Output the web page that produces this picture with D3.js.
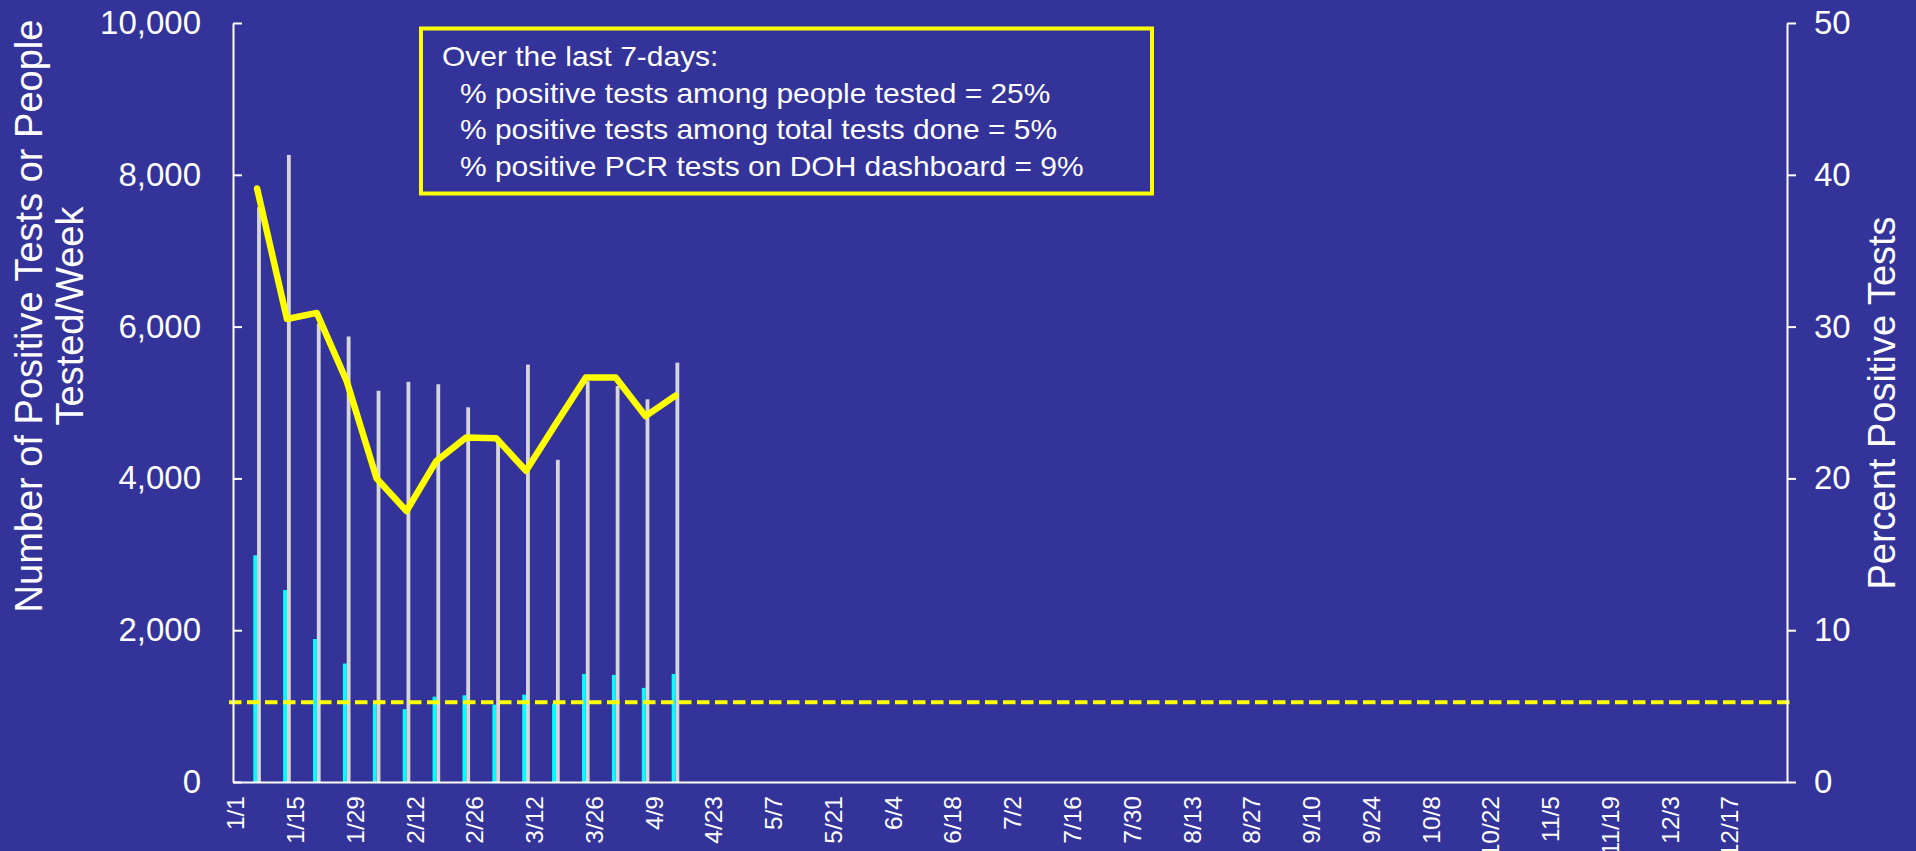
<!DOCTYPE html>
<html><head><meta charset="utf-8">
<script src="https://cdn.jsdelivr.net/npm/d3@7"></script>
<style>html,body{margin:0;padding:0;background:#333399;overflow:hidden}</style>
</head><body><svg id="chart" width="1916" height="851"></svg>
<script>
// ---- data ----
const weekDates = ["1/6","1/13","1/20","1/27","2/3","2/10","2/17","2/24","3/3","3/10","3/17","3/24","3/31","4/7","4/14"];
const positiveTests = [2987, 2530, 1884, 1561, 1028, 960, 1124, 1142, 1020, 1151, 1032, 1424, 1411, 1240, 1424];
const peopleTested = [7574, 8262, 6040, 5870, 5154, 5273, 5240, 4937, 4500, 5500, 4245, 5280, 5217, 5042, 5525];
const percentPositive = [39.1, 30.5, 30.9, 26.4, 20.0, 17.85, 21.15, 22.7, 22.65, 20.5, 23.6, 26.65, 26.65, 24.1, 25.45];
const thresholdPercent = 5.25;
const xTickLabels = ["1/1","1/15","1/29","2/12","2/26","3/12","3/26","4/9","4/23","5/7","5/21","6/4","6/18","7/2","7/16","7/30","8/13","8/27","9/10","9/24","10/8","10/22","11/5","11/19","12/3","12/17"];
const leftTicks = [0, 2000, 4000, 6000, 8000, 10000];
const rightTicks = [0, 10, 20, 30, 40, 50];
const leftTitle = ["Number of Positive Tests or People", "Tested/Week"];
const rightTitle = "Percent Positive Tests";
const boxLines = ["Over the last 7-days:",
  "% positive tests among people tested = 25%",
  "% positive tests among total tests done = 5%",
  "% positive PCR tests on DOH dashboard = 9%"];

// ---- setup ----
const W = 1916, H = 851;
const FONT = "'Liberation Sans', Arial, Helvetica, sans-serif";
const BG = "#333399";
const svg = d3.select("#chart");
svg.append("rect").attr("width", W).attr("height", H).attr("fill", BG);

const parse = s => { const [m, d] = s.split("/").map(Number); return new Date(Date.UTC(2022, m - 1, d)); };
const x = d3.scaleUtc()
  .domain([new Date(Date.UTC(2021, 11, 31, 12)), new Date(Date.UTC(2022, 11, 30, 12))])
  .range([233, 1787]);
const yL = d3.scaleLinear().domain([0, 10000]).range([782, 23]);
const yR = d3.scaleLinear().domain([0, 50]).range([782, 23]);

const rows = weekDates.map((d, i) => ({ date: parse(d), pos: positiveTests[i], tested: peopleTested[i], pct: percentPositive[i] }));
const bw = 3.8;

// bars
svg.append("g").selectAll("rect").data(rows).join("rect")
  .attr("x", d => x(d.date) - bw + 0.6).attr("width", bw)
  .attr("y", d => yL(d.pos)).attr("height", d => yL(0) - yL(d.pos))
  .attr("fill", "#00ffff");
svg.append("g").selectAll("rect").data(rows).join("rect")
  .attr("x", d => x(d.date) + 0.6).attr("width", bw)
  .attr("y", d => yL(d.tested)).attr("height", d => yL(0) - yL(d.tested))
  .attr("fill", "#d6d6da");

// threshold dashed line
svg.append("line")
  .attr("x1", x.range()[0] - 4).attr("x2", x.range()[1] + 3)
  .attr("y1", yR(thresholdPercent)).attr("y2", yR(thresholdPercent))
  .attr("stroke", "#ffff00").attr("stroke-width", 4).attr("stroke-dasharray", "12.5,5.5");

// percent line
svg.append("path").datum(rows)
  .attr("d", d3.line().x(d => x(d.date) + 0.6).y(d => yR(d.pct)))
  .attr("fill", "none").attr("stroke", "#ffff00").attr("stroke-width", 6.5)
  .attr("stroke-linejoin", "round").attr("stroke-linecap", "round");

// axes
function styleAxis(g, fs) {
  g.selectAll("path, line").attr("stroke", "#ffffff").attr("stroke-width", 2);
  g.selectAll("text").attr("fill", "#ffffff").style("font-family", FONT).style("font-size", fs + "px");
}
const gL = svg.append("g").attr("transform", `translate(${x.range()[0]},0)`)
  .call(d3.axisLeft(yL).tickValues(leftTicks).tickFormat(d3.format(",")).tickSize(-9).tickSizeOuter(0).tickPadding(32));
styleAxis(gL, 33);
const gR = svg.append("g").attr("transform", `translate(${x.range()[1]},0)`)
  .call(d3.axisRight(yR).tickValues(rightTicks).tickSize(9).tickSizeOuter(0).tickPadding(18));
styleAxis(gR, 33);
const gB = svg.append("g").attr("transform", `translate(0,${yL(0)})`)
  .call(d3.axisBottom(x).tickValues(xTickLabels.map(parse)).tickFormat((d, i) => xTickLabels[i]).tickSize(0).tickSizeOuter(0));
styleAxis(gB, 24.5);
gB.selectAll("text").attr("transform", "rotate(-90)").attr("x", -14).attr("y", 0).attr("dy", "0.35em").attr("text-anchor", "end");
gB.selectAll(".tick line").remove();

// axis titles
const lt = svg.append("g").attr("fill", "#ffffff").style("font-family", FONT).style("font-size", "38px");
lt.selectAll("text").data(leftTitle).join("text")
  .attr("transform", "rotate(-90)").attr("text-anchor", "middle")
  .attr("x", -316).attr("y", (d, i) => 41.7 + i * 41.6).text(d => d);
svg.append("text").attr("fill", "#ffffff").style("font-family", FONT).style("font-size", "38px")
  .attr("transform", "rotate(-90)").attr("text-anchor", "middle")
  .attr("x", -403).attr("y", 1895).text(rightTitle);

// annotation box
svg.append("rect").attr("x", 421).attr("y", 28.5).attr("width", 731).attr("height", 165)
  .attr("fill", "none").attr("stroke", "#ffff00").attr("stroke-width", 4);
const bt = svg.append("g").attr("transform", "translate(442,0) scale(1.11,1)")
  .attr("fill", "#ffffff").style("font-family", FONT).style("font-size", "27px");
bt.selectAll("text").data(boxLines).join("text")
  .attr("x", (d, i) => i === 0 ? 0 : 16.2).attr("y", (d, i) => 66.5 + i * 36.5).text(d => d);
</script></body></html>
